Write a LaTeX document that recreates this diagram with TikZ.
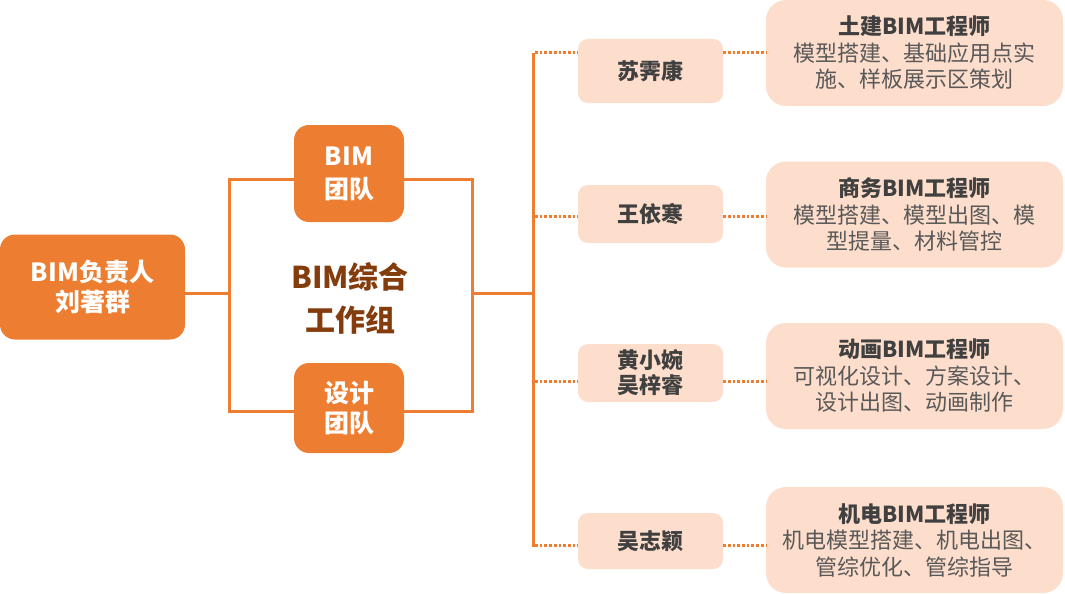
\documentclass[tikz,border=0pt]{standalone}
\usepackage{fontspec}
\setmainfont{Noto Sans CJK SC}
\definecolor{orgmain}{HTML}{ED7D31}
\definecolor{peach}{HTML}{FDDDCB}
\definecolor{brownt}{HTML}{843C0C}
\definecolor{darkt}{HTML}{404040}
\definecolor{grayt}{HTML}{595959}
\tikzset{
  orgbox/.style={draw=none, fill=orgmain, rounded corners=15pt, text=white, align=center, inner sep=0pt,
    font=\bfseries\fontsize{25}{30}\selectfont},
  namebox/.style={draw=none, fill=peach, rounded corners=10pt, text=darkt, align=center, inner sep=0pt,
    minimum width=145pt, font=\bfseries\fontsize{22}{25}\selectfont},
  rolebox/.style={draw=none, fill=peach, rounded corners=20pt, text=grayt, align=center, inner sep=0pt,
    minimum width=297pt, minimum height=106pt, font=\fontsize{22}{26.5}\selectfont},
  solidline/.style={draw=orgmain, line width=3pt},
  dotline/.style={draw=orgmain, line width=3pt, dash pattern=on 2.7pt off 2pt},
}
\newcommand{\roletitle}[1]{{\bfseries\color{darkt}#1}}
\begin{document}
\begin{tikzpicture}[x=1pt,y=-1pt]
\useasboundingbox (0,0) rectangle (1065,594);
% left part
\node[orgbox, minimum width=185pt, minimum height=105pt] (lead) at (92.5,287) {BIM负责人\\刘著群};
\node[orgbox, minimum width=110pt, minimum height=97pt, font=\bfseries\fontsize{25}{33}\selectfont] (bimteam) at (349,173.5) {BIM\\团队};
\node[orgbox, minimum width=110pt, minimum height=90pt] (design) at (349,408) {设计\\团队};
\node[text=brownt, align=center, inner sep=0pt, font=\bfseries\fontsize{30}{43}\selectfont] (group) at (350,298) {BIM综合\\工作组};
\coordinate (jl) at (229,293);
\coordinate (jr) at (472,293);
\coordinate (tl) at (229,179);
\coordinate (bl) at (229,411);
\coordinate (tr) at (472,179);
\coordinate (br) at (472,411);
\coordinate (bus) at (533,293);
\coordinate (bt) at (533,53);
\coordinate (bb) at (533,547);
\draw[solidline] (lead.east |- jl) -- (jl);
\draw[solidline] (bimteam.west |- tl) -- (tl) -- (bl) -- (design.west |- bl);
\draw[solidline] (bimteam.east |- tr) -- (tr) -- (br) -- (design.east |- br);
\draw[solidline] (jr) -- (bus);
\draw[solidline] (bt) -- (bb);
% names
\node[namebox, minimum height=64pt] (n1) at (650.5,71) {苏霁康};
\node[namebox, minimum height=58pt] (n2) at (650.5,214) {王依寒};
\node[namebox, minimum height=58pt] (n3) at (650.5,373) {黄小婉\\吴梓睿};
\node[namebox, minimum height=56pt] (n4) at (650.5,541) {吴志颖};
% roles
\node[rolebox] (r1) at (914.5,53) {\roletitle{土建BIM工程师}\\模型搭建、基础应用点实\\施、样板展示区策划};
\node[rolebox] (r2) at (914.5,214.5) {\roletitle{商务BIM工程师}\\模型搭建、模型出图、模\\型提量、材料管控};
\node[rolebox] (r3) at (914.5,376) {\roletitle{动画BIM工程师}\\可视化设计、方案设计、\\设计出图、动画制作};
\node[rolebox] (r4) at (914.5,540) {\roletitle{机电BIM工程师}\\机电模型搭建、机电出图、\\管综优化、管综指导};
% dotted connectors
\coordinate (d1) at (535,53);
\coordinate (d2) at (535,216);
\coordinate (d3) at (535,381);
\coordinate (d4) at (535,545);
\draw[dotline] (d1) -- (n1.west |- d1);
\draw[dotline] (d2) -- (n2.west |- d2);
\draw[dotline] (d3) -- (n3.west |- d3);
\draw[dotline] (d4) -- (n4.west |- d4);
\draw[dotline] (n1.east |- d1) -- (r1.west |- d1);
\draw[dotline] (n2.east |- d2) -- (r2.west |- d2);
\draw[dotline] (n3.east |- d3) -- (r3.west |- d3);
\draw[dotline] (n4.east |- d4) -- (r4.west |- d4);
\end{tikzpicture}
\end{document}
